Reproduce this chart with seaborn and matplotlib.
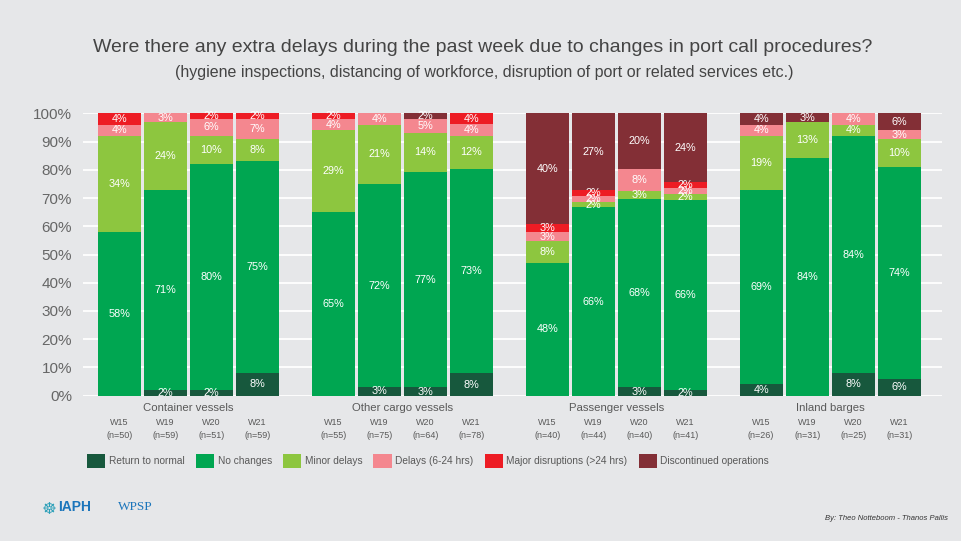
import seaborn as sns
import matplotlib.pyplot as plt
import numpy as np
from matplotlib.patches import Patch
from matplotlib.transforms import blended_transform_factory

# ---- data (percent of respondents) ----
groups = ["Container vessels", "Other cargo vessels", "Passenger vessels", "Inland barges"]
weeks = ["W15", "W19", "W20", "W21"]
sample_sizes = [50, 59, 51, 59, 55, 75, 64, 78, 40, 44, 40, 41, 26, 31, 25, 31]

categories = ["Return to normal", "No changes", "Minor delays",
              "Delays (6-24 hrs)", "Major disruptions (>24 hrs)", "Discontinued operations"]
colors = ["#17583D", "#00A651", "#8DC63F", "#F4878F", "#ED1C24", "#832F36"]

return_to_normal = [0, 2, 2, 8, 0, 3, 3, 8, 0, 0, 3, 2, 4, 0, 8, 6]
no_changes = [58, 71, 80, 75, 65, 72, 77, 73, 48, 66, 68, 66, 69, 84, 84, 74]
minor_delays = [34, 24, 10, 8, 29, 21, 14, 12, 8, 2, 3, 2, 19, 13, 4, 10]
delays_6_24 = [4, 3, 6, 7, 4, 4, 5, 4, 3, 2, 8, 2, 4, 0, 4, 3]
major_disruptions = [4, 0, 2, 2, 2, 0, 0, 4, 3, 2, 0, 2, 0, 0, 0, 0]
discontinued = [0, 0, 0, 0, 0, 0, 2, 0, 40, 27, 20, 24, 4, 3, 0, 6]

series = [return_to_normal, no_changes, minor_delays,
          delays_6_24, major_disruptions, discontinued]

# ---- layout ----
BG = "#E6E7E9"
TXT = "#595959"
group_step = 4.65
xpos = np.array([g * group_step + b for g in range(len(groups)) for b in range(len(weeks))])

values = np.array(series, dtype=float)
fracs = values / values.sum(axis=0)          # each bar fills 100%
bottoms = np.vstack([np.zeros(values.shape[1]), np.cumsum(fracs, axis=0)[:-1]])

sns.set_theme(style="white")
plt.rcParams["font.family"] = ["Liberation Sans", "DejaVu Sans"]

fig = plt.figure(figsize=(9.61, 5.41), dpi=100, facecolor=BG)
ax = fig.add_axes([83 / 961, 1 - 395.7 / 541, 859 / 961, 282.4 / 541])
ax.set_facecolor(BG)

for i, cat in enumerate(categories):
    sns.barplot(x=xpos, y=fracs[i], bottom=bottoms[i], native_scale=True,
                color=colors[i], saturation=1, width=0.93, errorbar=None,
                linewidth=0, ax=ax, zorder=3)
    for x, v, b, h in zip(xpos, values[i], bottoms[i], fracs[i]):
        if v > 0:
            ax.text(x, b + h / 2, f"{int(v)}%", ha="center", va="center",
                    color="white", fontsize=7.8, zorder=4)

ax.set_xlim(-0.79, 17.88)
ax.set_ylim(0, 1)
ticks = np.arange(0, 1.01, 0.1)
ax.set_yticks(ticks)
ax.set_yticklabels([f"{int(round(t * 100))}%" for t in ticks], fontsize=11, color="#666666")
ax.tick_params(axis="y", length=0, pad=8)
ax.set_xticks([])
ax.set_xlabel("")
ax.set_ylabel("")
for t in ticks:
    ax.axhline(t, color="white", lw=1.3, zorder=1)
for s in ax.spines.values():
    s.set_visible(False)

trans = blended_transform_factory(ax.transData, ax.transAxes)
for g, name in enumerate(groups):
    ax.text(g * group_step + 1.5, -12.5 / 282.4, name, transform=trans,
            ha="center", va="center", fontsize=8.2, color=TXT)
for x, n, w in zip(xpos, sample_sizes, weeks * len(groups)):
    ax.text(x, -26.5 / 282.4, w, transform=trans, ha="center", va="center",
            fontsize=6.5, color=TXT)
    ax.text(x, -39.5 / 282.4, f"(n={n})", transform=trans, ha="center", va="center",
            fontsize=6.5, color=TXT)

# ---- titles ----
fig.text(0.502, 1 - 48 / 541,
         "Were there any extra delays during the past week due to changes in port call procedures?",
         ha="center", va="center", fontsize=14, color="#444444")
fig.text(0.504, 1 - 73 / 541,
         "(hygiene inspections, distancing of workforce, disruption of port or related services etc.)",
         ha="center", va="center", fontsize=11.5, color="#444444")

# ---- legend ----
handles = [Patch(facecolor=c, edgecolor="none") for c in colors]
fig.legend(handles, categories, loc="center left", bbox_to_anchor=(87 / 961, 1 - 461 / 541),
           ncol=6, frameon=False, fontsize=7.3, handlelength=1.8, handleheight=1.8,
           handletextpad=0.35, columnspacing=1.1, borderpad=0, borderaxespad=0,
           labelcolor=TXT)

# ---- footer ----
fig.text(42 / 961, 1 - 509 / 541, "\u2638", fontsize=12, color="#2A9FB8",
         ha="left", va="center", family=["DejaVu Sans"])
fig.text(58 / 961, 1 - 507 / 541, "IAPH", fontsize=10, weight="bold", color="#1B75BB",
         ha="left", va="center")
fig.text(118 / 961, 1 - 507 / 541, "WPSP", fontsize=9.5, color="#1B75BB",
         ha="left", va="center", family=["Liberation Serif", "DejaVu Serif"])
fig.text(948 / 961, 1 - 518 / 541, "By: Theo Notteboom - Thanos Pallis",
         ha="right", va="center", fontsize=5.5, style="italic", color="#333333")

fig.savefig("out.png", dpi=100, facecolor=BG)
plt.close(fig)
